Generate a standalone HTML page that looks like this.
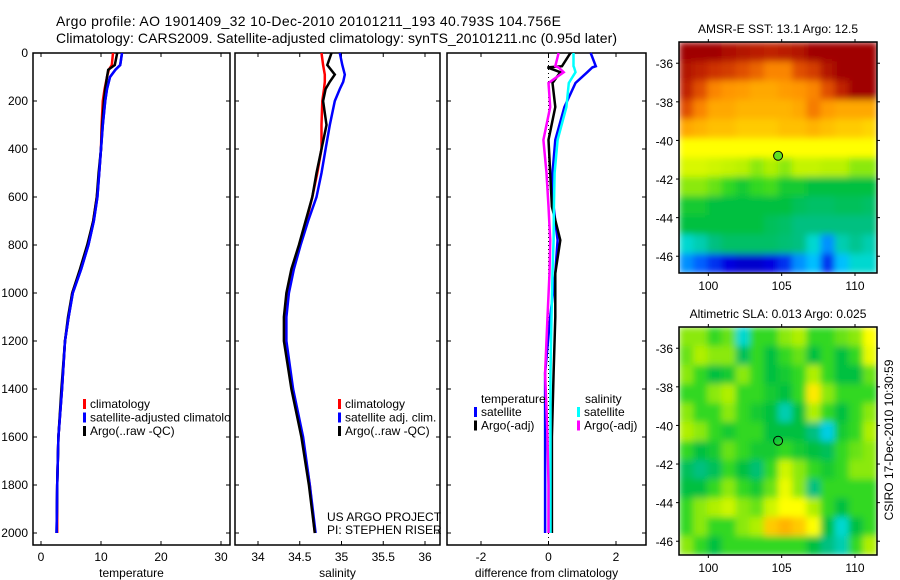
<!DOCTYPE html>
<html><head><meta charset="utf-8"><style>
body{margin:0;background:#fff}
svg{display:block;font-family:"Liberation Sans",sans-serif}
text{fill:#000}
</style></head><body>
<svg id="s" width="900" height="580" viewBox="0 0 900 580">
<defs>
<clipPath id="c1"><rect x="33" y="53" width="197" height="492"/></clipPath>
<clipPath id="cm1"><rect x="679" y="42" width="198" height="231"/></clipPath>
<clipPath id="cm2"><rect x="679" y="327" width="198" height="228"/></clipPath>
<filter id="bl" x="-5%" y="-5%" width="110%" height="110%"><feGaussianBlur stdDeviation="3.5" edgeMode="duplicate"/></filter>
</defs>
<rect width="900" height="580" fill="#fff"/>
<text x="56" y="26" font-size="14" textLength="505">Argo profile: AO 1901409_32 10-Dec-2010 20101211_193 40.793S 104.756E</text>
<text x="56" y="43" font-size="14" textLength="561">Climatology: CARS2009. Satellite-adjusted climatology: synTS_20101211.nc (0.95d later)</text>
<g id="g"></g>
</svg>
<script>
// ---- data ----
const tDepth=[0,50,70,100,150,200,300,400,500,600,700,800,900,1000,1100,1200,1400,1600,1800,2000];
const tClim=[12.0,11.8,11.3,11.0,10.6,10.3,10.1,10.0,9.7,9.3,8.7,7.8,6.6,5.2,4.6,4.0,3.5,2.9,2.7,2.7];
const tSat=[13.5,13.2,12.4,11.5,11.0,10.7,10.3,10.0,9.7,9.4,8.8,7.9,6.7,5.3,4.6,4.0,3.5,2.9,2.7,2.6];
const tArgo=[12.7,12.3,11.2,11.0,10.7,10.5,10.2,10.0,9.6,9.3,8.7,7.7,6.5,5.2,4.5,4.0,3.4,2.9,2.7,2.6];
const sDepth=[0,50,90,120,150,200,300,400,500,600,700,800,900,1000,1100,1200,1400,1600,1800,2000];
const sClim=[34.76,34.78,34.80,34.80,34.79,34.77,34.76,34.76,34.71,34.65,34.58,34.50,34.42,34.36,34.33,34.33,34.41,34.53,34.62,34.68];
const sSat=[34.98,35.01,35.04,35.02,34.98,34.92,34.86,34.81,34.76,34.70,34.60,34.51,34.43,34.37,34.34,34.34,34.42,34.54,34.62,34.69];
const sArgo=[34.88,34.83,34.92,34.86,34.81,34.78,34.82,34.76,34.70,34.65,34.57,34.49,34.40,34.34,34.31,34.31,34.40,34.52,34.61,34.68];
const dDepth=[0,55,60,80,125,225,362,500,640,780,917,1100,1333,1600,1800,2000];
const dTsat=[1.25,1.4,1.3,1.15,0.8,0.47,0.2,0.12,0.15,0.27,0.2,0.05,-0.1,-0.1,-0.1,-0.1];
const dTargo=[0.65,0.4,-0.03,0.35,0.12,0.2,0.0,0.05,0.1,0.35,0.2,0.2,0.15,0.1,0.1,0.1];
const dSsat=[0.74,0.74,0.76,0.8,0.6,0.53,0.27,0.18,0.16,0.15,0.12,0.09,0.06,0.06,0.06,0.06];
const dSargo=[0.3,0.2,0.3,0.45,0.0,0.05,-0.15,-0.06,0.0,0.05,0.03,-0.03,-0.1,-0.03,0.0,0.0];
const sstGrid=[
[1,1,1,0.98,0.97,0.96,0.95,0.96,0.97,1,1,1,1,1],
[0.97,0.95,0.93,0.92,0.9,0.88,0.85,0.85,0.9,0.92,0.97,1,1,1],
[0.95,0.9,0.85,0.83,0.82,0.8,0.8,0.82,0.83,0.85,0.9,0.95,1,1],
[0.9,0.85,0.8,0.8,0.78,0.78,0.78,0.78,0.8,0.86,0.82,0.8,0.8,0.8],
[0.8,0.78,0.76,0.76,0.75,0.75,0.75,0.76,0.76,0.78,0.76,0.75,0.75,0.74],
[0.7,0.7,0.7,0.7,0.7,0.7,0.7,0.7,0.7,0.7,0.7,0.7,0.7,0.7],
[0.66,0.66,0.65,0.64,0.63,0.6,0.62,0.6,0.64,0.64,0.63,0.63,0.6,0.6],
[0.6,0.6,0.58,0.55,0.52,0.55,0.56,0.52,0.52,0.5,0.5,0.5,0.5,0.5],
[0.52,0.52,0.5,0.5,0.5,0.5,0.5,0.5,0.48,0.47,0.47,0.48,0.48,0.47],
[0.5,0.5,0.5,0.5,0.5,0.5,0.48,0.47,0.45,0.45,0.45,0.45,0.45,0.45],
[0.4,0.42,0.45,0.47,0.47,0.47,0.47,0.46,0.45,0.4,0.3,0.42,0.44,0.42],
[0.3,0.25,0.2,0.15,0.12,0.12,0.15,0.2,0.3,0.35,0.2,0.35,0.4,0.4]];
const slaGrid=[
[0.6,0.6,0.55,0.58,0.4,0.55,0.55,0.6,0.62,0.55,0.55,0.58,0.6,0.7],
[0.58,0.62,0.6,0.6,0.48,0.55,0.5,0.55,0.58,0.5,0.55,0.5,0.55,0.68],
[0.6,0.55,0.5,0.52,0.6,0.55,0.5,0.52,0.55,0.62,0.55,0.5,0.5,0.58],
[0.55,0.55,0.6,0.62,0.55,0.55,0.52,0.5,0.55,0.72,0.6,0.55,0.55,0.55],
[0.6,0.55,0.55,0.6,0.55,0.52,0.5,0.42,0.5,0.62,0.55,0.5,0.55,0.6],
[0.62,0.6,0.55,0.52,0.55,0.55,0.5,0.5,0.5,0.45,0.38,0.52,0.55,0.62],
[0.55,0.5,0.52,0.58,0.55,0.52,0.52,0.55,0.52,0.5,0.48,0.55,0.58,0.6],
[0.48,0.45,0.48,0.55,0.5,0.46,0.55,0.65,0.6,0.55,0.52,0.55,0.6,0.6],
[0.5,0.5,0.55,0.6,0.55,0.52,0.58,0.68,0.6,0.45,0.55,0.55,0.55,0.55],
[0.55,0.6,0.62,0.65,0.6,0.58,0.65,0.7,0.7,0.62,0.55,0.5,0.55,0.55],
[0.55,0.6,0.55,0.55,0.6,0.62,0.75,0.78,0.75,0.7,0.5,0.4,0.5,0.55],
[0.6,0.55,0.5,0.55,0.55,0.55,0.55,0.55,0.55,0.5,0.45,0.42,0.55,0.62]];
const depthTicks=[0,200,400,600,800,1000,1200,1400,1600,1800,2000];
const tTicks=[0,10,20,30], sTicks=[34,34.5,35,35.5,36], dTicks=[-2,0,2];
const latTicks=[-36,-38,-40,-42,-44,-46], lonTicks=[100,105,110];
const argoLon=104.756, argoLat=-40.793;

// ---- drawing ----
const NS='http://www.w3.org/2000/svg', G=document.getElementById('g');
function el(t,a,p){const e=document.createElementNS(NS,t);for(const k in a)e.setAttribute(k,a[k]);(p||G).appendChild(e);return e;}
function lin(d0,d1,r0,r1){return v=>r0+(v-d0)*(r1-r0)/(d1-d0);}
const yD=lin(0,2000,53,533);

function panel(name,x0,x1,xs,ticks,fmt,label,showY){
  const g=el('g',{});  
  const r=el('rect',{x:x0,y:53,width:x1-x0,height:492,fill:'none',stroke:'#000','stroke-width':1.5},g);
   
  ticks.forEach(t=>{const x=xs(t);
    el('line',{x1:x,x2:x,y1:545,y2:541,stroke:'#000'},g);
    el('line',{x1:x,x2:x,y1:53,y2:57,stroke:'#000'},g);
    const tx=el('text',{x:x,y:561,'font-size':12,'text-anchor':'middle'},g); tx.textContent=fmt(t);
     });
  depthTicks.forEach(d=>{const y=yD(d);
    el('line',{x1:x0,x2:x0+4,y1:y,y2:y,stroke:'#000'},g);
    el('line',{x1:x1,x2:x1-4,y1:y,y2:y,stroke:'#000'},g);
    if(showY){const tx=el('text',{x:28,y:y+4,'font-size':12,'text-anchor':'end'},g);tx.textContent=d;
       }});
  const lt=el('text',{x:(x0+x1)/2,y:577,'font-size':12,'text-anchor':'middle'},g); lt.textContent=label;
   
  return g;
}
function line(g,name,xs,depths,vals,col){
  const p=el('polyline',{points:vals.map((v,i)=>xs(v).toFixed(1)+','+yD(depths[i]).toFixed(1)).join(' '),fill:'none',stroke:col,'stroke-width':2.5},g);
   
}
function legend(g,x,y,items){
  items.forEach((it,i)=>{const yy=y+i*13.5;
    el('rect',{x:x,y:yy-9,width:3,height:10,fill:it[1]},g);
    const t=el('text',{x:x+7,y:yy,'font-size':12},g); t.textContent=it[0];
     });
}
// panel 1
const xT=lin(0,30,41,221);
const p1=panel('temperature-panel',33,230,xT,tTicks,v=>v,'temperature',true);
line(p1,'temperature-climatology',xT,tDepth,tClim,'#f00');
line(p1,'temperature-satellite-adjusted',xT,tDepth,tSat,'#00f');
line(p1,'temperature-argo',xT,tDepth,tArgo,'#000');
line(p1,'temperature-satellite-adjusted-top',xT,tDepth,tSat,'#00f');
const lg1=el('g',{'clip-path':'url(#c1)'},p1);
legend(lg1,83,408,[['climatology','#f00'],['satellite-adjusted climatology','#00f'],['Argo(..raw -QC)','#000']]);
// panel 2
const xS=lin(34,36,258,425);
const p2=panel('salinity-panel',235,440,xS,sTicks,v=>v,'salinity',false);
line(p2,'salinity-climatology',xS,sDepth,sClim,'#f00');
line(p2,'salinity-satellite-adjusted',xS,sDepth,sSat,'#00f');
line(p2,'salinity-argo',xS,sDepth,sArgo,'#000');
legend(p2,338,408,[['climatology','#f00'],['satellite adj. clim.','#00f'],['Argo(..raw -QC)','#000']]);
let t=el('text',{x:327,y:521,'font-size':12},p2);t.textContent='US ARGO PROJECT';
t=el('text',{x:327,y:534,'font-size':12},p2);t.textContent='PI: STEPHEN RISER';
// panel 3
const xDf=lin(-2,2,481,616);
const p3=panel('difference-panel',447,646,xDf,dTicks,v=>v,'difference from climatology',false);
el('line',{x1:xDf(0),x2:xDf(0),y1:53,y2:545,stroke:'#000','stroke-dasharray':'1,3'},p3);
line(p3,'diff-temp-satellite',xDf,dDepth,dTsat,'#00f');
line(p3,'diff-temp-argo',xDf,dDepth,dTargo,'#000');
line(p3,'diff-sal-satellite',xDf,dDepth,dSsat,'#0ff');
line(p3,'diff-sal-argo',xDf,dDepth,dSargo,'#f0f');
t=el('text',{x:481,y:403,'font-size':12},p3);t.textContent='temperature';
t=el('text',{x:585,y:403,'font-size':12},p3);t.textContent='salinity';
legend(p3,474,416,[['satellite','#00f'],['Argo(-adj)','#000']]);
legend(p3,577,416,[['satellite','#0ff'],['Argo(-adj)','#f0f']]);

// maps
const stops=[[0,'#000080'],[0.15,'#0000e0'],[0.25,'#0060ff'],[0.35,'#00c0ff'],[0.4,'#00d8d0'],[0.45,'#00c080'],[0.5,'#00c040'],[0.55,'#30d820'],[0.62,'#b0f000'],[0.7,'#ffff00'],[0.76,'#ffc000'],[0.84,'#ff9000'],[0.9,'#e05000'],[0.95,'#c02000'],[1,'#a00000']];
function hx(h){return [1,3,5].map(i=>parseInt(h.substr(i,2),16));}
function cmap(v){v=Math.max(0,Math.min(1,v));for(let i=1;i<stops.length;i++){if(v<=stops[i][0]){const a=stops[i-1],b=stops[i],f=(v-a[0])/(b[0]-a[0]);const A=hx(a[1]),B=hx(b[1]);return 'rgb('+A.map((c,k)=>Math.round(c+(B[k]-c)*f)).join(',')+')';}}return stops[stops.length-1][1];}
function map(name,top,bot,grid,title,clip){
  const g=el('g',{});  
  const x0=679,x1=877,xL=lin(98,111.5,x0,x1);
  const yl=lin(-34.9,-34.9-(bot-top)/19.3,top,bot);
  const rows=grid.length, cols=grid[0].length, cw=(x1-x0)/cols, rh=(bot-top)/rows;
  const cg=el('g',{'clip-path':'url(#'+clip+')'},g);
  const bg=el('g',{filter:'url(#bl)'},cg);
  grid.forEach((row,i)=>row.forEach((v,j)=>{
    const c=el('rect',{x:(x0+j*cw).toFixed(2),y:(top+i*rh).toFixed(2),width:(cw+0.6).toFixed(2),height:(rh+0.6).toFixed(2),fill:cmap(v)},bg);
     }));
  el('rect',{x:x0,y:top,width:x1-x0,height:bot-top,fill:'none',stroke:'#000','stroke-width':1.5},g);
  lonTicks.forEach(l=>{const x=xL(l);el('line',{x1:x,x2:x,y1:bot,y2:bot+3,stroke:'#000'},g);el('line',{x1:x,x2:x,y1:top,y2:top-3,stroke:'#000'},g);
    const tx=el('text',{x:x,y:bot+17,'font-size':12,'text-anchor':'middle'},g);tx.textContent=l;});
  latTicks.forEach(l=>{const y=yl(l);el('line',{x1:x0,x2:x0-3,y1:y,y2:y,stroke:'#000'},g);el('line',{x1:x1,x2:x1+3,y1:y,y2:y,stroke:'#000'},g);
    const tx=el('text',{x:673,y:y+5,'font-size':12,'text-anchor':'end'},g);tx.textContent=l;});
  const c=el('circle',{cx:xL(argoLon),cy:yl(argoLat),r:4.5,fill:name==='sst-map'?'#60e020':'none',stroke:'#000'},g);
   
  const tt=el('text',{x:(x0+x1)/2,y:top-9,'font-size':12,'text-anchor':'middle'},g);tt.textContent=title;
   
}
map('sst-map',42,273,sstGrid,'AMSR-E SST: 13.1  Argo: 12.5','cm1');
map('sla-map',327,555,slaGrid,'Altimetric SLA: 0.013  Argo: 0.025','cm2');
t=el('text',{x:0,y:0,'font-size':12,'text-anchor':'middle',transform:'translate(893,440) rotate(-90)'});
t.textContent='CSIRO 17-Dec-2010 10:30:59';
 
</script>
</body></html>
